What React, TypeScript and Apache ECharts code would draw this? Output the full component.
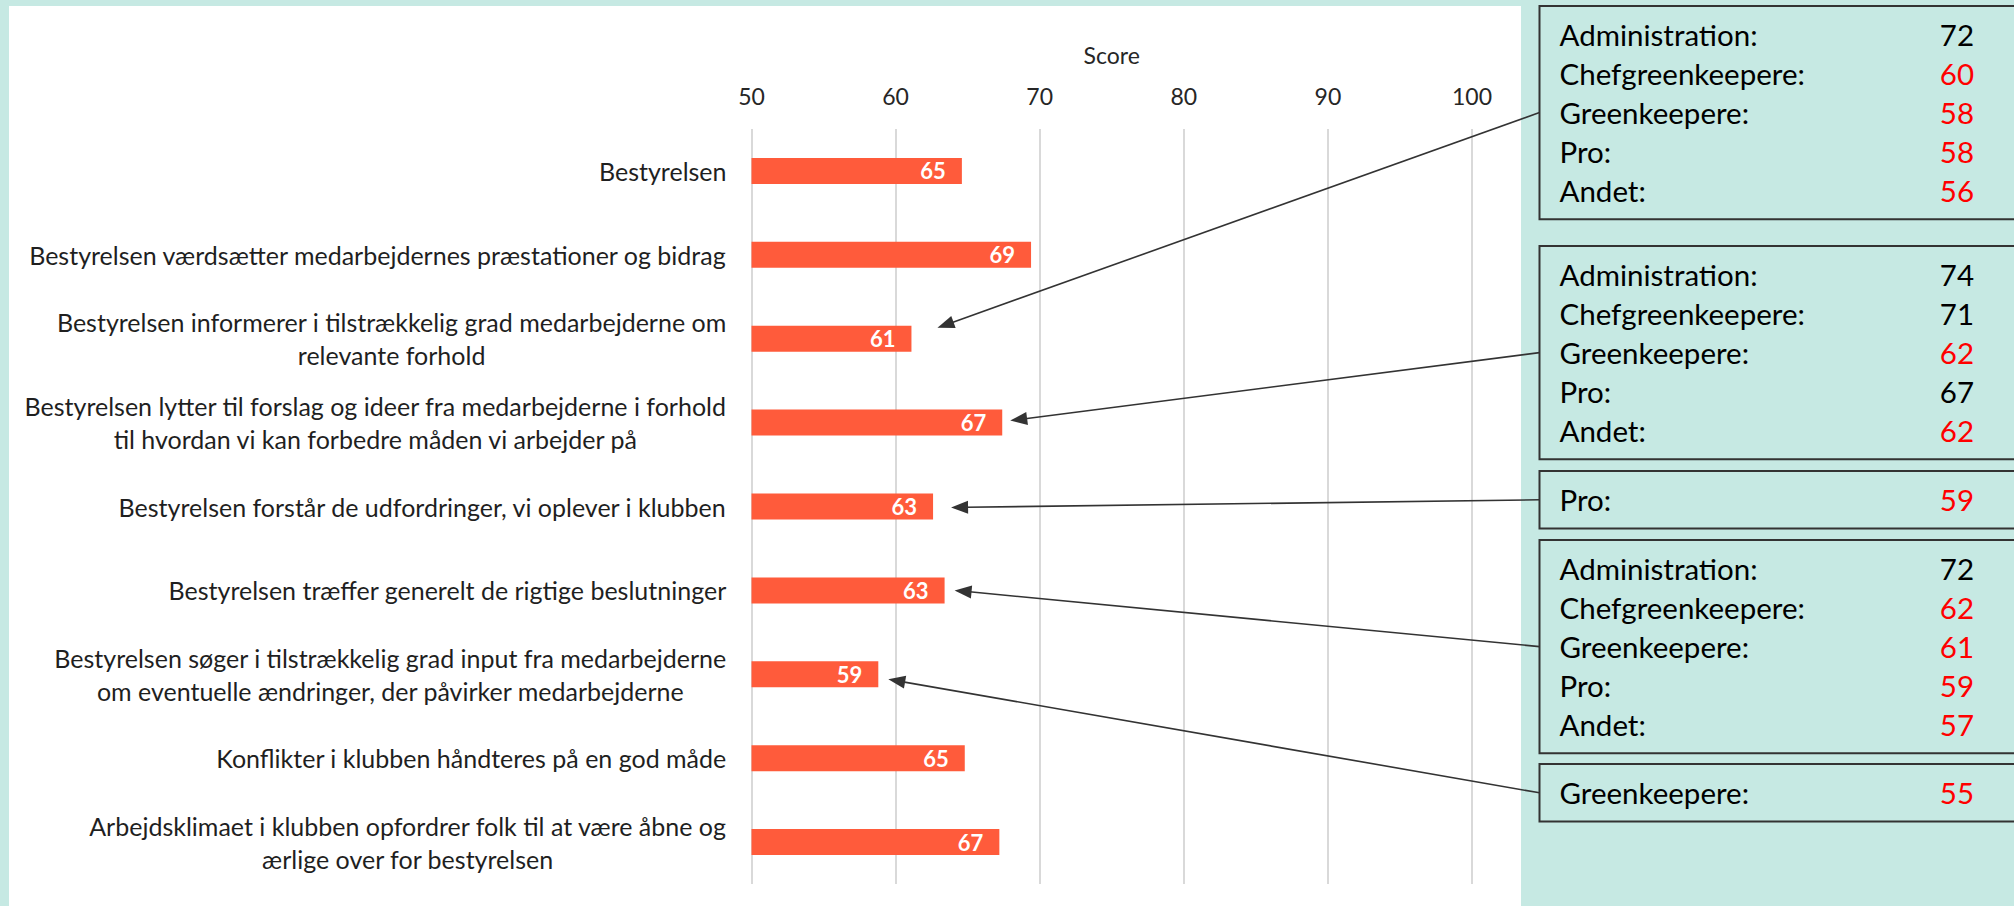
import React, { useEffect, useRef } from "react";
import * as echarts from "echarts";

const categories = [
  "Bestyrelsen",
  "Bestyrelsen værdsætter medarbejdernes præstationer og bidrag",
  "Bestyrelsen informerer i tilstrækkelig grad medarbejderne om\nrelevante forhold",
  "Bestyrelsen lytter til forslag og ideer fra medarbejderne i forhold\ntil hvordan vi kan forbedre måden vi arbejder på",
  "Bestyrelsen forstår de udfordringer, vi oplever i klubben",
  "Bestyrelsen træffer generelt de rigtige beslutninger",
  "Bestyrelsen søger i tilstrækkelig grad input fra medarbejderne\nom eventuelle ændringer, der påvirker medarbejderne",
  "Konflikter i klubben håndteres på en god måde",
  "Arbejdsklimaet i klubben opfordrer folk til at være åbne og\nærlige over for bestyrelsen",
];
const scores = [64.6, 69.4, 61.1, 67.4, 62.6, 63.4, 58.8, 64.8, 67.2];
const axisMin = 50;
const axisMax = 100;
const axisStep = 10;

const groupsAll = ["Administration:", "Chefgreenkeepere:", "Greenkeepere:", "Pro:", "Andet:"];
const note1Values = [72, 60, 58, 58, 56];
const note2Values = [74, 71, 62, 67, 62];
const note3Groups = ["Pro:"];
const note3Values = [59];
const note4Values = [72, 62, 61, 59, 57];
const note5Groups = ["Greenkeepere:"];
const note5Values = [55];
const noteTargets = [2, 3, 4, 5, 6];

const FONT = "Lato, 'Noto Sans', sans-serif";
const TEAL = "#C6E9E3";

export default function App() {
  const ref = useRef<HTMLDivElement>(null);
  useEffect(() => {
    if (!ref.current) return;
    const chart = echarts.init(ref.current, undefined, { renderer: "svg" });
    chart.setOption({
      animation: false,
      backgroundColor: TEAL,
      grid: { left: 751.5, top: 129, width: 720.5, height: 755, containLabel: false },
      xAxis: {
        type: "value",
        position: "top",
        min: axisMin,
        max: axisMax,
        interval: axisStep,
        name: "Score",
        nameLocation: "middle",
        nameGap: 62.5,
        nameTextStyle: { fontFamily: FONT, fontSize: 23, color: "#262626" },
        axisLine: { show: false },
        axisTick: { show: false },
        axisLabel: { fontFamily: FONT, fontSize: 23, color: "#262626", margin: 22 },
        splitLine: { show: true, lineStyle: { color: "#D9D9D9", width: 2 } },
      },
      yAxis: {
        type: "category",
        inverse: true,
        data: categories,
        axisLine: { show: false },
        axisTick: { show: false },
        axisLabel: {
          margin: 25,
          formatter: (v: string) => v.split("\n").map((l) => `{c|${l}}`).join("\n"),
          rich: {
            c: { align: "center", fontFamily: FONT, fontSize: 25, color: "#1f1f1f", lineHeight: 33 },
          },
        },
      },
      series: [
        {
          type: "bar",
          data: scores,
          barWidth: 26,
          itemStyle: { color: "#FF5B3B" },
          label: {
            show: true,
            position: "insideRight",
            distance: 16,
            color: "#ffffff",
            fontFamily: FONT,
            fontWeight: "bold",
            fontSize: 22,
            formatter: (p: any) => String(Math.round(p.value)),
          },
        },
      ],
    });

    const notes = [
      { groups: groupsAll, values: note1Values, top: 6 },
      { groups: groupsAll, values: note2Values, top: 246 },
      { groups: note3Groups, values: note3Values, top: 471 },
      { groups: groupsAll, values: note4Values, top: 540 },
      { groups: note5Groups, values: note5Values, top: 764 },
    ];
    const tipDx = [26, 8, 18, 10, 10];
    const tipDy = [-11, -2, 1, 0, 5];
    const boxLeft = 1539.5;
    const rowGap = 38.9;
    const pad = 28.8;

    const elements: any[] = [
      {
        type: "rect",
        z: -10,
        shape: { x: 9, y: 6, width: 1512, height: 920 },
        style: { fill: "#ffffff" },
        silent: true,
      },
    ];

    notes.forEach((n, i) => {
      const h = pad * 2 + (n.groups.length - 1) * rowGap;
      elements.push({
        type: "rect",
        shape: { x: boxLeft, y: n.top, width: 600, height: h },
        style: { fill: TEAL, stroke: "#333333", lineWidth: 2 },
        silent: true,
      });
      const target = noteTargets[i];
      const barLabel = Math.round(scores[target]);
      n.groups.forEach((g, j) => {
        const y = n.top + pad + j * rowGap;
        elements.push({
          type: "text",
          x: 1559.5,
          y,
          style: { text: g, fontFamily: FONT, fontSize: 29.5, fill: "#000000", textVerticalAlign: "middle", textAlign: "left" },
          silent: true,
        });
        const v = n.values[j];
        elements.push({
          type: "text",
          x: 1974,
          y,
          style: {
            text: String(v),
            fontFamily: FONT,
            fontSize: 29.5,
            fill: v < barLabel ? "#FF0000" : "#000000",
            textVerticalAlign: "middle",
            textAlign: "right",
          },
          silent: true,
        });
      });
      const end = chart.convertToPixel({ gridIndex: 0 }, [scores[target], target]) as number[];
      const tx = end[0] + tipDx[i];
      const ty = end[1] + tipDy[i];
      const sx = boxLeft;
      const sy = n.top + h / 2;
      const dx = tx - sx;
      const dy = ty - sy;
      const len = Math.sqrt(dx * dx + dy * dy);
      const ux = dx / len;
      const uy = dy / len;
      const L = 17;
      const W = 6.5;
      const bx = tx - ux * L;
      const by = ty - uy * L;
      elements.push({
        type: "line",
        shape: { x1: sx, y1: sy, x2: bx + ux * 2, y2: by + uy * 2 },
        style: { stroke: "#333333", lineWidth: 1.6 },
        silent: true,
      });
      elements.push({
        type: "polygon",
        shape: {
          points: [
            [tx, ty],
            [bx - uy * W, by + ux * W],
            [bx + uy * W, by - ux * W],
          ],
        },
        style: { fill: "#333333" },
        silent: true,
      });
    });

    chart.setOption({ graphic: { elements } });
    return () => chart.dispose();
  }, []);
  return <div ref={ref} style={{ position: "fixed", left: 0, top: 0, width: 2014, height: 906 }} />;
}
